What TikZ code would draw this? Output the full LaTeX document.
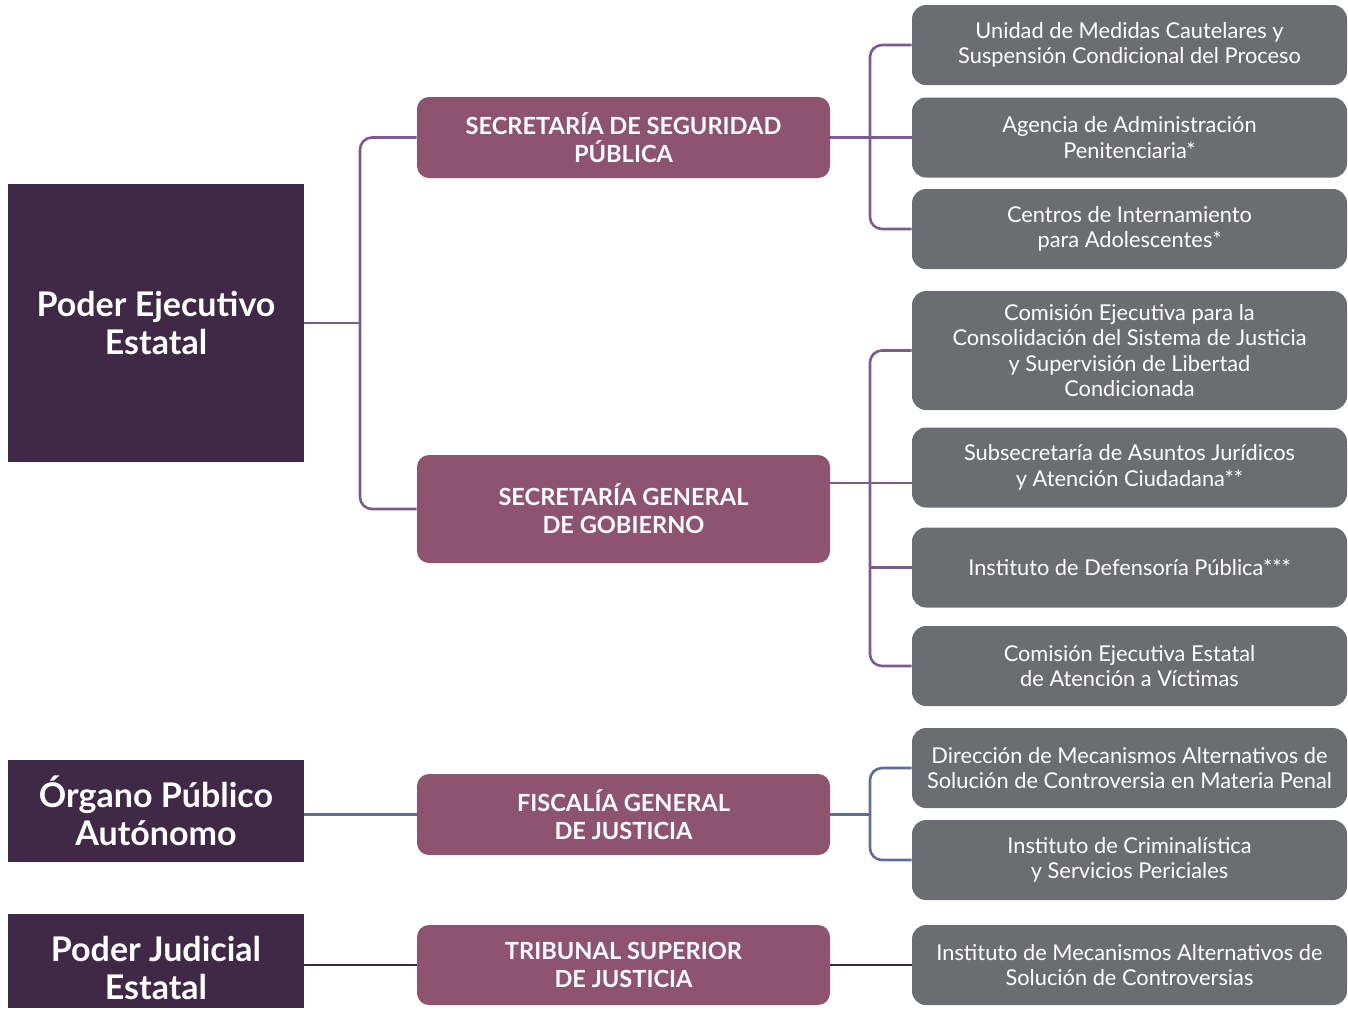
\documentclass[tikz,border=0pt]{standalone}
\usepackage{fontspec}
\setmainfont{Lato}
\usepackage{xcolor}
\usetikzlibrary{calc}

\definecolor{poder}{HTML}{3F2946}
\definecolor{secre}{HTML}{8D536F}
\definecolor{unidad}{HTML}{6C6D71}
\definecolor{liga}{HTML}{7A5A92}
\definecolor{ligaF}{HTML}{5F6B9E}
\definecolor{ligaJ}{HTML}{3D2545}

\tikzset{
  poder/.style={fill=poder,text=white,font=\bfseries\fontsize{17}{19}\selectfont,
    minimum width=148pt,inner sep=0pt,align=center},
  secre/.style={fill=secre,text=white,rounded corners=6pt,
    font=\bfseries\fontsize{11.8}{14}\selectfont,minimum width=206.5pt,
    minimum height=40.5pt,inner sep=0pt,align=center},
  unidad/.style={fill=unidad,text=white,rounded corners=7pt,
    font=\fontsize{10.9}{12.75}\selectfont,minimum width=217.5pt,
    minimum height=40pt,inner sep=0pt,align=center},
  liga/.style={draw=liga,line width=1.3pt,rounded corners=6pt},
}

\begin{document}
\begin{tikzpicture}[x=0.5pt,y=-0.5pt]
    \useasboundingbox (0,0) rectangle (1348,1009);
    % poderes
    \node[poder,minimum height=139pt] (ejec) at (156,323) {Poder Ejecutivo\\Estatal};
    \node[poder,minimum height=51pt] (organo) at (156,811) {Órgano Público\\Autónomo};
    \node[poder,minimum height=47pt] (judic) at (156,961) {\rule{0pt}{19.5pt}Poder Judicial\\Estatal};
    % secretarias
    \node[secre] (ssp) at (623.5,137.5) {SECRETARÍA DE SEGURIDAD\\PÚBLICA};
    \node[secre,minimum height=54pt] (sgg) at (623.5,509) {SECRETARÍA GENERAL\\DE GOBIERNO};
    \node[secre] (fgj) at (623.5,814.5) {FISCALÍA GENERAL\\DE JUSTICIA};
    \node[secre,minimum height=40pt] (tsj) at (623.5,965) {TRIBUNAL SUPERIOR\\DE JUSTICIA};
    % unidades
    \node[unidad] (ucaut) at (1129.5,45) {Unidad de Medidas Cautelares y\\Suspensión Condicional del Proceso};
    \node[unidad] (apen) at (1129.5,137.5) {Agencia de Administración\\Penitenciaria*};
    \node[unidad] (cadol) at (1129.5,229) {Centros de Internamiento\\para Adolescentes*};
    \node[unidad,minimum height=59.5pt] (cejec) at (1129.5,350.5) {Comisión Ejecutiva para la\\Consolidación del Sistema de Justicia\\y Supervisión de Libertad\\Condicionada};
    \node[unidad] (subs) at (1129.5,467.5) {Subsecretaría de Asuntos Jurídicos\\y Atención Ciudadana**};
    \node[unidad] (idef) at (1129.5,567.5) {Instituto de Defensoría Pública***};
    \node[unidad] (cvic) at (1129.5,666) {Comisión Ejecutiva Estatal\\de Atención a Víctimas};
    \node[unidad] (dmasc) at (1129.5,768) {Dirección de Mecanismos Alternativos de\\Solución de Controversia en Materia Penal};
    \node[unidad] (icrim) at (1129.5,860) {Instituto de Criminalística\\y Servicios Periciales};
    \node[unidad] (imasc) at (1129.5,965) {Instituto de Mecanismos Alternativos de\\Solución de Controversias};
    % buses
    \coordinate (busE) at (360,323);
    \coordinate (busS) at (870,137.5);
    \coordinate (busG) at (870,483);
    \coordinate (busF) at (870,814.5);
    % ligas
    \draw[liga] (ejec.east) -- (busE);
    \draw[liga] (ssp.west) -| (busE) |- (sgg.west);
    \draw[liga] (ssp.east) -- (apen.west);
    \draw[liga] (ucaut.west) -| (busS) |- (cadol.west);
    \draw[liga] ([yshift=13pt]sgg.east) -- (busG) -- (busG -| subs.west);
    \draw[liga] (cejec.west) -| (busG) |- (cvic.west);
    \draw[liga] (busG |- idef.west) -- (idef.west);
    \draw[liga,draw=ligaF] (organo.east |- fgj.west) -- (fgj.west);
    \draw[liga,draw=ligaF] (fgj.east) -- (busF);
    \draw[liga,draw=ligaF] (dmasc.west) -| (busF) |- (icrim.west);
    \draw[liga,draw=ligaJ] (judic.east |- tsj.west) -- (tsj.west);
    \draw[liga,draw=ligaJ] (tsj.east) -- (imasc.west);
\end{tikzpicture}
\end{document}
